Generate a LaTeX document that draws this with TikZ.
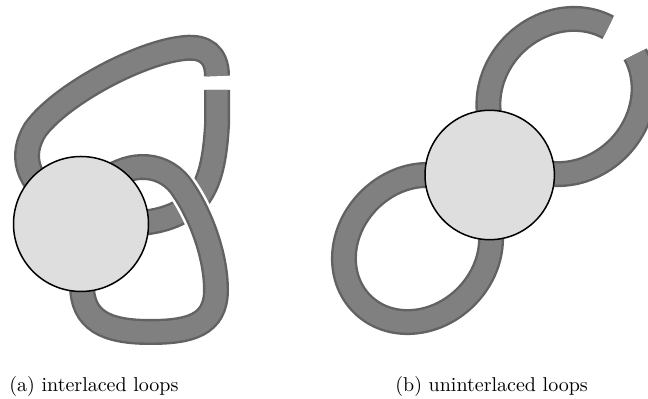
\documentclass[tikz,border=0pt]{standalone}
\usepackage{xcolor}
\usepackage{tikz}
\usetikzlibrary{calc}
\usetikzlibrary{positioning}
\definecolor{bandgray}{HTML}{808080}
\definecolor{bandedge}{HTML}{626262}
\definecolor{hubgray}{HTML}{DEDEDE}

\begin{document}
\begin{tikzpicture}[x=0.5pt,y=-0.5pt,
                    band/.style={draw=bandgray,line width=10.6pt,preaction={draw=bandedge,line width=13pt}},
                    overband/.style={preaction={draw=white,line width=15.5pt},band},
                    hub/.style={circle,draw=black,fill=hubgray,line width=0.75pt,inner sep=0pt}]
  \useasboundingbox (0,0) rectangle (648,399);
  \draw[band] (120,224) .. controls (160,224) and (185,215) .. (200,195)
                        .. controls (210,180) and (215,160) .. (217,125) -- (217,90);
  \draw[band] (217,76) .. controls (217,55) and (205,46) .. (185,48)
                       .. controls (140,52) and (60,95) .. (35,130)
                       .. controls (20,155) and (25,180) .. (60,205);
  \draw[overband] (100,185) .. controls (125,162) and (160,160) .. (180,185)
                            .. controls (200,212) and (216,255) .. (216,290)
                            .. controls (216,325) and (190,332) .. (150,332)
                            .. controls (105,332) and (82,320) .. (82,285) -- (82,260);
  \node[hub,minimum size=67.5pt] (hubA) at (81,224) {};

  \begin{scope}[shift={(417.5,248.5)},rotate=45]
    \draw[band] (0,0) ellipse [x radius=78.4,y radius=68.4];
  \end{scope}
  \begin{scope}[shift={(566,96.5)},rotate=45]
    \draw[band] (15:81.5 and 73.5) arc [start angle=15,end angle=345,x radius=81.5,y radius=73.5];
  \end{scope}
  \node[hub,minimum size=64.7pt] (hubB) at (489.7,175) {};

  \node[anchor=base west,inner sep=0pt] (capA) at (9,392) {(a) interlaced loops};
  \node[anchor=base west,inner sep=0pt] (capB) at (395,392) {(b) uninterlaced loops};
\end{tikzpicture}
\end{document}
